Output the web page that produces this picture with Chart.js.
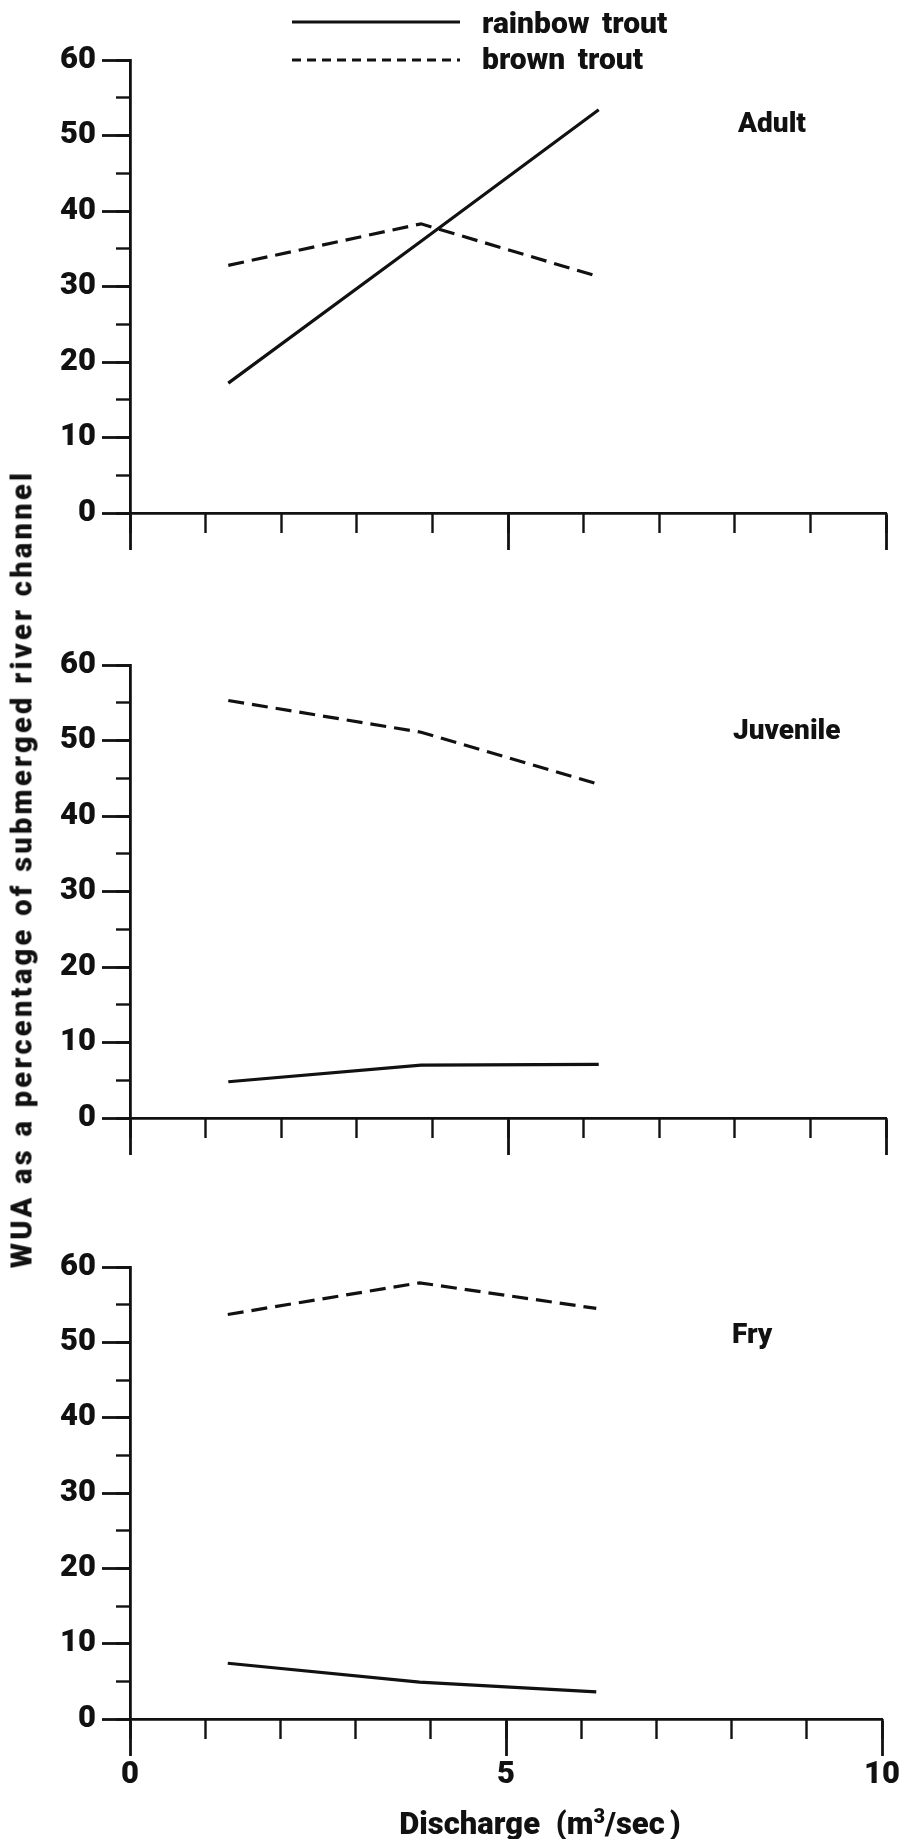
<!DOCTYPE html>
<html>
<head>
<meta charset="utf-8">
<script src="https://cdn.jsdelivr.net/npm/chart.js@4/dist/chart.umd.min.js"></script>
<style>
  html, body { margin: 0; padding: 0; background: #fff; }
  body { width: 901px; height: 1839px; position: relative; overflow: hidden;
         font-family: Roboto, "Liberation Sans", Arial, sans-serif; font-weight: 900; color: #111; }
  canvas { position: absolute; left: 0; }
  .t { position: absolute; white-space: nowrap; line-height: 1; }
</style>
</head>
<body>
<canvas id="c1" width="901" height="570" style="top:0px"></canvas>
<canvas id="c2" width="901" height="570" style="top:600px"></canvas>
<canvas id="c3" width="901" height="639" style="top:1200px"></canvas>

<svg style="position:absolute;left:0;top:0" width="901" height="80">
  <line x1="292" y1="22" x2="460" y2="22" stroke="#111" stroke-width="3.2"/>
  <line x1="292" y1="60" x2="460" y2="60" stroke="#111" stroke-width="3.2" stroke-dasharray="9,6"/>
</svg>
<div class="t" style="left:482px;top:8px;font-size:30px;word-spacing:5px">rainbow trout</div>
<div class="t" style="left:482px;top:44px;font-size:30px;word-spacing:5px">brown trout</div>

<div class="t" style="left:738px;top:109px;font-size:28px">Adult</div>
<div class="t" style="left:733px;top:716px;font-size:28px">Juvenile</div>
<div class="t" style="left:732px;top:1320px;font-size:28px">Fry</div>

<div class="t" style="left:22px;top:869px;font-size:29px;letter-spacing:3.3px;transform:translate(-50%,-50%) rotate(-90deg)">WUA as a percentage of submerged river channel</div>
<div class="t" style="left:540px;top:1822px;font-size:31px;word-spacing:8px;transform:translate(-50%,-50%)">Discharge (m<span style="font-size:20px;vertical-align:11px">3</span>/sec<span style="margin-left:5px">)</span></div>

<script>
// ---- data ----
const discharge = [1.3, 3.85, 6.2];            // m3/sec
const adultRainbow = [17.2, 36.0, 53.4];
const adultBrown   = [32.8, 38.3, 31.3];
const juvenileRainbow = [4.8, 7.0, 7.1];
const juvenileBrown   = [55.3, 51.1, 44.2];
const fryRainbow = [7.4, 4.9, 3.6];
const fryBrown   = [53.7, 57.9, 54.5];
const seriesNames = ['rainbow trout', 'brown trout'];
const yTickValues = [0, 10, 20, 30, 40, 50, 60];
const xTickLabels = ['0', '5', '10'];

const INK = '#111';
const FONT = 'Roboto, "Liberation Sans", Arial, sans-serif';

function pts(xs, ys) { return xs.map((x, i) => ({ x: x, y: ys[i] })); }

function makeChart(id, rainbow, brown, opts) {
  const ctx = document.getElementById(id);
  return new Chart(ctx, {
    type: 'line',
    data: {
      datasets: [
        { label: seriesNames[0], data: pts(discharge, rainbow), borderColor: INK, borderWidth: 3.2,
          pointRadius: 0, tension: 0, fill: false },
        { label: seriesNames[1], data: pts(discharge, brown), borderColor: INK, borderWidth: 3.2,
          borderDash: [16, 8], pointRadius: 0, tension: 0, fill: false }
      ]
    },
    options: {
      responsive: false, animation: false, devicePixelRatio: 1,
      layout: { padding: { left: 0, right: 15, top: opts.padTop, bottom: opts.padBottom } },
      plugins: { legend: { display: false }, tooltip: { enabled: false } },
      scales: {
        y: {
          type: 'linear', position: 'left', min: 0, max: 60, weight: 1,
          afterBuildTicks: s => { s.ticks = yTickValues.map(v => ({ value: v })); },
          ticks: { color: INK, font: { family: FONT, size: 31, weight: '900' }, padding: 6 },
          grid: { drawOnChartArea: false, tickLength: 28, tickWidth: 2.8, tickColor: INK },
          border: { display: true, color: INK, width: 2.8 },
          afterFit: s => { s.width = 130; }
        },
        yMinor: {
          type: 'linear', position: 'left', min: 0, max: 60, weight: 0,
          ticks: { stepSize: 5, display: false },
          grid: { drawOnChartArea: false, tickLength: 14, tickWidth: 2.4, tickColor: INK },
          border: { display: false },
          afterFit: s => { s.width = 0; }
        },
        x: {
          type: 'linear', position: 'bottom', min: 0, max: 10, weight: 1,
          ticks: { stepSize: 5, display: opts.showX, color: INK, padding: 1,
                   font: { family: FONT, size: 31, weight: '900' },
                   callback: (v) => xTickLabels[[0, 5, 10].indexOf(v)] },
          grid: { drawOnChartArea: false, tickLength: 37, tickWidth: 2.8, tickColor: INK },
          border: { display: true, color: INK, width: 2.8 },
          afterFit: s => { s.height = opts.xH; }
        },
        xMinor: {
          type: 'linear', position: 'bottom', min: 0, max: 10, weight: 0,
          ticks: { stepSize: 1, display: false },
          grid: { drawOnChartArea: false, tickLength: 20, tickWidth: 2.4, tickColor: INK },
          border: { display: false },
          afterFit: s => { s.height = 0; }
        }
      }
    }
  });
}

makeChart('c1', adultRainbow, adultBrown, { padTop: 60, padBottom: 7, xH: 50, showX: false });
makeChart('c2', juvenileRainbow, juvenileBrown, { padTop: 65, padBottom: 2, xH: 50, showX: false });
makeChart('c3', fryRainbow, fryBrown, { padTop: 67, padBottom: 30, xH: 90, showX: true });
</script>
</body>
</html>
